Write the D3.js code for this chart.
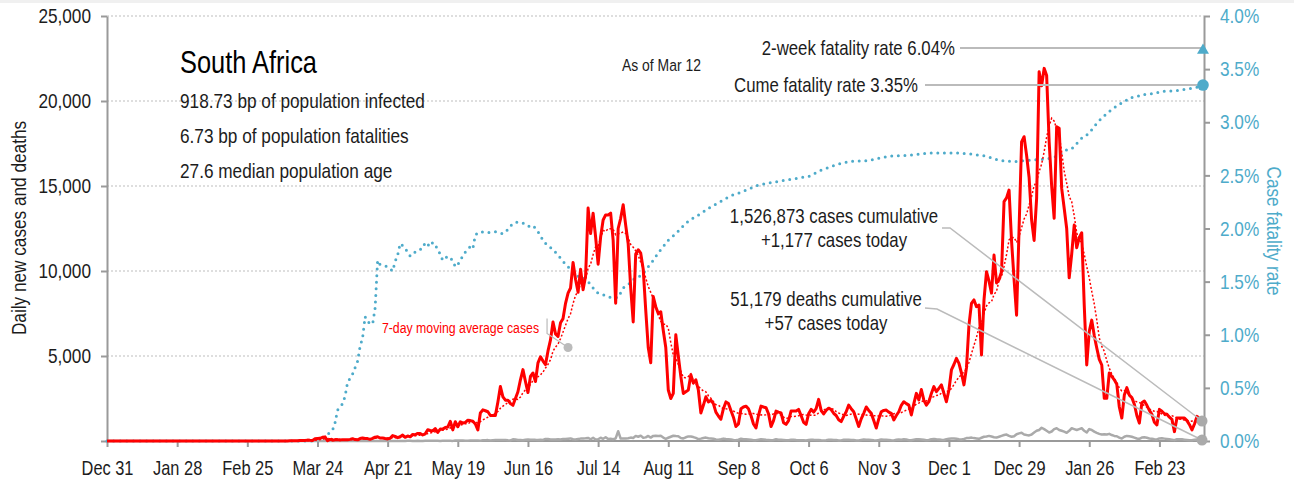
<!DOCTYPE html>
<html>
<head>
<meta charset="utf-8">
<script src="https://cdn.jsdelivr.net/npm/d3@7"></script>
<style>
  body { margin: 0; background: #fff; }
  svg { display: block; font-family: "Liberation Sans", Arial, sans-serif; }
</style>
</head>
<body>
<svg id="chart" width="1294" height="484"></svg>
<script>
// ---- Data -------------------------------------------------------------
const seriesStart = "2019-12-31";
const seriesEnd = "2021-03-12";

// Daily new cases, one value per day from caseStart (none reported before)
const caseStart = "2020-03-05";
const dailyCases = [
  // Mar 2020
  1,0,1,1,4,0,6,3,8,14, 13,11,23,31,34,52,38,34,128,152, 155,218,243,17,93,48,73,
  // Apr
  82,57,80,78,68,96,139,86,67,144, 178,149,143,99,151,228,251,174,181,143, 124,165,318,267,197,251,354,217,297,247,
  // May
  385,370,447,437,352,424,663,620,595,735, 507,700,698,790,818,1160,652,1135,840,1134, 1050,1100,1218,1200,1160,1000,650,1650,1830,1780, 1720,
  // Jun
  1500,1500,1500,2300,3200,2600,2400,2400,2200,2100, 2500,2900,3600,4200,3500,2850,3800,4000,3500,4600, 4950,4700,4500,5300,5950,7000,6300,6150,6960,7200,
  // Jul
  8100,8700,9000,10500,9500,8750,10100,8900,9700,13700, 12200,13400,12000,10400,12000,13000,13300,13300,13400,11800, 8100,12500,13100,13900,12700,11600,9000,7000,11000,11250, 11050,
  // Aug
  10100,7700,5500,4600,8500,7900,7500,7600,6500,5500, 3000,2500,2800,6250,5000,3800,2800,2900,3000,3900, 3400,3600,3000,1650,2100,2600,2300,2400,2200,1700, 1470,
  // Sep
  1280,1900,2300,2200,1800,1400,850,1000,1900,2000, 2050,1900,1500,1000,770,1500,2050,2000,1960,1600, 850,1200,1760,1700,1650,1080,980,1200,1760,1760,
  // Oct
  1760,1860,1500,1100,980,1600,1860,1700,1900,2450, 1800,1590,1800,1930,1850,1630,1500,1250,1140,1450, 1720,2110,1900,1720,1300,850,1300,1630,2000,1800, 1630,
  // Nov
  1200,760,1300,1720,1800,1820,1700,1630,1240,1500, 1720,2100,2310,2200,2110,1530,2200,2800,2420,3030, 2400,2110,2310,2800,3200,2900,3100,3300,2800,2310,
  // Dec
  3000,4180,4500,4860,4570,4000,3300,4300,6820,8100, 8300,7900,8000,5060,8300,9960,9400,8700,10940,9300, 9500,9960,14080,14300,14760,11760,9500,7400,12500,17600, 17900,
  // Jan 2021
  16800,15500,13000,11800,14270,21720,20900,21920,21500,17600, 15000,13100,18490,18400,14860,13690,12500,9600,11000,12700, 11370,11960,12250,8000,4470,6430,7110,6200,5470,4800, 4470,
  // Feb
  2510,2510,4000,3800,3600,3330,2000,1350,2700,3140, 2700,2550,2160,1500,1050,2250,2350,2100,1800,1570, 1100,940,1860,1750,1600,1570,1400,1270,
  // Mar 1-12
  550,1350,1350,1350,1350,1200,960,650,1000,1450, 1300,1177
];

// Daily deaths, one value per day from deathStart
const deathStart = "2020-03-27";
const dailyDeaths = [
  1,0,1,2,2,
  0,2,2,2,4,1,5,0,6,0, 1,6,0,2,7,5,4,2,0,0, 6,2,4,7,1,3,3,7,10,12,
  3,5,13,7,7,9,8,15,11,13, 11,5,12,13,14,13,7,26,27,25, 30,13,22,25,28,27,29,20,40,48, 52,
  24,50,55,56,63,55,57,43,35,97, 82,58,58,46,75,84,71,78,69,64, 74,61,121,111,91,94,90,100,86,112,
  111,130,151,101,91,115,140,150,160,180, 102,187,91,100,190,130,224,111,130,108, 150,572,140,150,148,166,200,180,300,250, 315,
  190,213,298,200,300,310,300,305,200,130, 190,250,310,290,280,180,150,220,270,260, 230,180,110,140,180,200,160,150,130,90, 80,
  100,140,120,110,95,60,50,80,130,100, 100,90,80,50,50,80,110,90,70,60, 40,60,100,80,70,60,40,45,70,80,
  60,50,45,40,30,60,80,70,65,60, 40,30,50,80,75,55,60,30,35,70, 80,75,60,55,35,30,60,90,80,70, 60,
  40,35,60,90,80,70,60,40,35,70, 90,80,100,90,50,40,80,110,100,90, 70,50,60,110,120,100,90,70,60,110,
  130,140,150,130,100,90,120,170,180,200, 170,150,130,190,250,270,300,260,220,200, 250,300,350,380,300,250,280,400,450,480, 380,
  350,330,380,500,600,650,780,700,600,500, 560,700,750,650,600,550,480,600,750,700, 650,700,750,600,500,700,650,550,480,420, 380,
  400,380,420,350,300,280,200,150,250,300, 280,250,200,150,120,200,220,190,150,130, 100,90,150,160,140,120,100,80,
  50,100,110,100,80,60,40,40,80,90, 70,57
];

// Case fatality rate (%), sampled on these dates
const cfrDates = [
  "2019-12-31","2020-03-25","2020-03-28","2020-03-30","2020-03-31","2020-04-01","2020-04-03","2020-04-04","2020-04-05","2020-04-07",
  "2020-04-08","2020-04-09","2020-04-10","2020-04-11","2020-04-12","2020-04-13","2020-04-15","2020-04-16","2020-04-17","2020-04-18",
  "2020-04-21","2020-04-23","2020-04-24","2020-04-25","2020-04-26","2020-04-27","2020-04-29","2020-04-30","2020-05-01","2020-05-03",
  "2020-05-05","2020-05-06","2020-05-08","2020-05-09","2020-05-11","2020-05-13","2020-05-15","2020-05-17","2020-05-18","2020-05-20",
  "2020-05-21","2020-05-24","2020-05-25","2020-05-26","2020-05-28","2020-05-31","2020-06-03","2020-06-06","2020-06-08","2020-06-10",
  "2020-06-12","2020-06-14","2020-06-16","2020-06-18","2020-06-20","2020-06-22","2020-06-23","2020-06-26","2020-06-28","2020-06-30",
  "2020-07-02","2020-07-04","2020-07-06","2020-07-08","2020-07-10","2020-07-12","2020-07-14","2020-07-17","2020-07-19","2020-07-22",
  "2020-07-24","2020-07-26","2020-07-28","2020-07-30","2020-08-01","2020-08-03","2020-08-05","2020-08-07","2020-08-09","2020-08-11",
  "2020-08-14","2020-08-16","2020-08-18","2020-08-21","2020-08-24","2020-08-27","2020-08-30","2020-09-02","2020-09-05","2020-09-09",
  "2020-09-16","2020-09-28","2020-10-06","2020-10-11","2020-10-17","2020-10-22","2020-10-30","2020-11-07","2020-11-15","2020-11-23",
  "2020-12-05","2020-12-10","2020-12-16","2020-12-21","2020-12-27","2021-01-01","2021-01-06","2021-01-11","2021-01-14","2021-01-17",
  "2021-01-19","2021-01-21","2021-01-23","2021-01-25","2021-01-27","2021-01-29","2021-01-31","2021-02-02","2021-02-04","2021-02-07",
  "2021-02-09","2021-02-11","2021-02-14","2021-02-16","2021-02-21","2021-02-24","2021-03-03","2021-03-05","2021-03-08","2021-03-10",
  "2021-03-12"
];
const cfrValues = [
  0,0,0.06,0.10,0.17,0.29,0.35,0.42,0.55,0.63,
  0.69,0.75,0.89,0.97,1.17,1.12,1.10,1.25,1.70,1.66,
  1.64,1.60,1.69,1.75,1.86,1.84,1.78,1.74,1.76,1.80,
  1.81,1.87,1.83,1.87,1.81,1.70,1.74,1.70,1.64,1.69,
  1.75,1.83,1.81,1.94,1.97,1.96,1.97,1.95,1.99,2.05,
  2.06,2.05,2.02,2.03,1.97,1.89,1.86,1.80,1.75,1.69,
  1.64,1.59,1.55,1.54,1.50,1.44,1.39,1.37,1.35,1.35,
  1.44,1.47,1.52,1.54,1.58,1.64,1.70,1.77,1.83,1.89,
  1.95,2.00,2.05,2.10,2.14,2.19,2.23,2.27,2.31,2.34,
  2.41,2.46,2.49,2.55,2.60,2.63,2.64,2.68,2.69,2.71,
  2.71,2.70,2.68,2.64,2.63,2.64,2.65,2.66,2.69,2.74,
  2.75,2.80,2.85,2.88,2.93,2.99,3.04,3.08,3.12,3.17,
  3.19,3.23,3.24,3.26,3.27,3.29,3.30,3.31,3.32,3.33,
  3.35
];

// Headline figures
const countryName = "South Africa";
const infectedBp = 918.73;
const fatalitiesBp = 6.73;
const medianAge = 27.6;
const asOfLabel = "As of Mar 12";
const twoWeekRate = 6.04;
const cumeRate = 3.35;
const casesCumulative = 1526873;
const casesToday = 1177;
const deathsCumulative = 51179;
const deathsToday = 57;
const rateCeiling = 3.7;          // rates above the axis are pinned here
const averageNoteDate = "2020-07-02";
const averageNoteValue = 5500;

// Axis ticks
const xTickDates = ["2019-12-31","2020-01-28","2020-02-25","2020-03-24","2020-04-21","2020-05-19","2020-06-16",
  "2020-07-14","2020-08-11","2020-09-08","2020-10-06","2020-11-03","2020-12-01","2020-12-29","2021-01-26","2021-02-23"];
const caseTicks = [0, 5000, 10000, 15000, 20000, 25000];
const rateTicks = [0, 0.5, 1, 1.5, 2, 2.5, 3, 3.5, 4];

(function draw() {
  // ---- Build series ------------------------------------------------------
  const parse = d3.utcParse("%Y-%m-%d");
  const t0 = parse(seriesStart), t1 = parse(seriesEnd);
  const days = d3.utcDay.range(t0, d3.utcDay.offset(t1, 1));
  const caseOff = d3.utcDay.count(t0, parse(caseStart));
  const deathOff = d3.utcDay.count(t0, parse(deathStart));
  const cases = days.map((d, i) => ({ date: d, value: i < caseOff ? 0 : dailyCases[i - caseOff] }));
  const deaths = days.map((d, i) => ({ date: d, value: i < deathOff ? 0 : dailyDeaths[i - deathOff] }));
  const avg7 = cases.map((d, i) => ({
    date: d.date,
    value: d3.mean(cases.slice(Math.max(0, i - 6), i + 1), c => c.value)
  }));
  const cfr = cfrDates.map((s, i) => ({ date: parse(s), value: cfrValues[i] }));

  // ---- Layout -------------------------------------------------------------
  const BLUE = "#4eabca", RED = "#ff0000", GREY = "#aaaaaa", AXIS = "#9a9a9a", INK = "#1c1c1c";
  const SX = 0.82;   // horizontal squeeze giving a narrow typeface
  const plotLeft = 107, rightAxisX = 1204, plotTop = 16, plotBottom = 441;

  const svg = d3.select("#chart");
  svg.append("rect").attr("x", 0).attr("y", 0).attr("width", 1294).attr("height", 3).attr("fill", "#f0f0f0");

  const x = d3.scaleUtc().domain([t0, t1]).range([plotLeft, 1202]);
  const yL = d3.scaleLinear().domain([0, 25000]).range([plotBottom, plotTop]);
  const yR = d3.scaleLinear().domain([0, 4]).range([plotBottom, plotTop]);

  // narrow text helper
  function label(px, py, str, size, opts = {}) {
    const rot = opts.rotate ? ` rotate(${opts.rotate})` : "";
    return svg.append("text")
      .attr("transform", `translate(${px},${py})${rot} scale(${SX},1)`)
      .attr("text-anchor", opts.anchor || "start")
      .attr("font-size", size)
      .attr("fill", opts.fill || INK)
      .text(str);
  }

  // gridlines
  svg.append("g").selectAll("line").data(caseTicks.filter(v => v > 0)).join("line")
    .attr("x1", plotLeft).attr("x2", rightAxisX)
    .attr("y1", d => yL(d)).attr("y2", d => yL(d))
    .attr("stroke", "#bdbdbd").attr("stroke-width", 1).attr("stroke-dasharray", "2,2");

  // axes
  function styleAxis(g, color, size) {
    g.selectAll(".domain").attr("stroke", AXIS).attr("stroke-width", 2);
    g.selectAll(".tick line").attr("stroke", AXIS).attr("stroke-width", 2);
    g.selectAll(".tick text").attr("fill", color).attr("font-size", size)
      .attr("font-family", "'Liberation Sans', Arial, sans-serif")
      .attr("x", function () { return +d3.select(this).attr("x") / SX; })
      .attr("transform", `scale(${SX},1)`);
  }
  const fmt = d3.format(",");
  svg.append("g").attr("transform", `translate(${plotLeft},0)`)
    .call(d3.axisLeft(yL).tickValues(caseTicks).tickFormat(d => d === 0 ? "" : fmt(d)).tickSize(6).tickSizeOuter(0).tickPadding(10))
    .call(g => styleAxis(g, INK, 21));
  svg.append("g").attr("transform", `translate(${rightAxisX},0)`)
    .call(d3.axisRight(yR).tickValues(rateTicks).tickFormat(d => d.toFixed(1) + "%").tickSize(6).tickSizeOuter(0).tickPadding(10))
    .call(g => styleAxis(g, BLUE, 21));
  svg.append("g").attr("transform", `translate(0,${plotBottom})`)
    .call(d3.axisBottom(x).tickValues(xTickDates.map(parse)).tickFormat(d3.utcFormat("%b %-d")).tickSize(6).tickSizeOuter(0).tickPadding(14))
    .call(g => styleAxis(g, INK, 20))
    .call(g => g.select(".domain").attr("d", `M${plotLeft},0H${rightAxisX}`));

  // axis titles
  label(26, 228, "Daily new cases and deaths", 21, { rotate: -90, anchor: "middle" });
  label(1267, 231, "Case fatality rate", 21, { rotate: 90, anchor: "middle", fill: BLUE });

  // case fatality rate (dotted)
  svg.append("path").datum(cfr)
    .attr("d", d3.line().x(d => x(d.date)).y(d => yR(d.value)))
    .attr("fill", "none").attr("stroke", BLUE).attr("stroke-width", 3)
    .attr("stroke-linecap", "round").attr("stroke-dasharray", "0,6.6");

  // deaths
  svg.append("path").datum(deaths)
    .attr("d", d3.line().x(d => x(d.date)).y(d => yL(d.value)))
    .attr("fill", "none").attr("stroke", GREY).attr("stroke-width", 2.5).attr("stroke-linejoin", "round");

  // daily cases
  svg.append("path").datum(cases)
    .attr("d", d3.line().x(d => x(d.date)).y(d => yL(d.value)))
    .attr("fill", "none").attr("stroke", RED).attr("stroke-width", 3).attr("stroke-linejoin", "round");

  // 7-day moving average
  svg.append("path").datum(avg7)
    .attr("d", d3.line().x(d => x(d.date)).y(d => yL(d.value)))
    .attr("fill", "none").attr("stroke", RED).attr("stroke-width", 1.5).attr("stroke-dasharray", "2,2");

  // ---- Annotations ----------------------------------------------------------
  const endX = x(t1);

  // title block
  label(180, 73, countryName, 31, { fill: "#000" });
  [`${infectedBp} bp of population infected`, `${fatalitiesBp} bp of population fatalities`, `${medianAge} median population age`]
    .forEach((s, i) => label(180, 108 + i * 35, s, 21));
  label(622, 71, asOfLabel, 17);

  // 2-week rate (pinned at the ceiling)
  const twY = yR(Math.min(twoWeekRate, rateCeiling));
  svg.append("line").attr("x1", 960).attr("x2", endX + 2).attr("y1", twY).attr("y2", twY).attr("stroke", "#bbb").attr("stroke-width", 2);
  svg.append("path").attr("d", d3.symbol(d3.symbolTriangle, 62)()).attr("transform", `translate(${endX + 1},${twY + 2.5})`).attr("fill", BLUE);
  label(955, twY + 7, `2-week fatality rate ${twoWeekRate.toFixed(2)}%`, 20.5, { anchor: "end" });

  // cumulative rate
  const cuY = yR(cumeRate);
  svg.append("line").attr("x1", 925).attr("x2", endX + 2).attr("y1", cuY).attr("y2", cuY).attr("stroke", "#bbb").attr("stroke-width", 2);
  svg.append("circle").attr("cx", endX + 1).attr("cy", cuY).attr("r", 5.8).attr("fill", BLUE);
  label(918, cuY + 7, `Cume fatality rate ${cumeRate.toFixed(2)}%`, 20.5, { anchor: "end" });

  // cases today
  svg.append("polyline").attr("points", `942,228 950,228 ${endX},${yL(casesToday)}`)
    .attr("fill", "none").attr("stroke", "#bbb").attr("stroke-width", 1.5);
  svg.append("circle").attr("cx", endX).attr("cy", yL(casesToday)).attr("r", 5.5).attr("fill", GREY);
  label(834, 223, `${fmt(casesCumulative)} cases cumulative`, 20.5, { anchor: "middle" });
  label(834, 247, `+${fmt(casesToday)} cases today`, 20.5, { anchor: "middle" });

  // deaths today
  svg.append("polyline").attr("points", `925,308 937,309 ${endX},${yL(deathsToday)}`)
    .attr("fill", "none").attr("stroke", "#bbb").attr("stroke-width", 1.5);
  svg.append("circle").attr("cx", endX).attr("cy", yL(deathsToday)).attr("r", 5.5).attr("fill", GREY);
  label(826, 306, `${fmt(deathsCumulative)} deaths cumulative`, 20.5, { anchor: "middle" });
  label(826, 330, `+${fmt(deathsToday)} cases today`, 20.5, { anchor: "middle" });

  // moving-average label
  const ax = x(parse(averageNoteDate)), ay = yL(averageNoteValue);
  svg.append("polyline").attr("points", `${ax - 21},${ay - 29} ${ax - 21},${ay - 14} ${ax},${ay}`)
    .attr("fill", "none").attr("stroke", "#bbb").attr("stroke-width", 1.2);
  svg.append("circle").attr("cx", ax).attr("cy", ay).attr("r", 4.5).attr("fill", "#bbb");
  label(ax - 29, ay - 15, "7-day moving average cases", 15, { anchor: "end", fill: RED });
})();
</script>
</body>
</html>
